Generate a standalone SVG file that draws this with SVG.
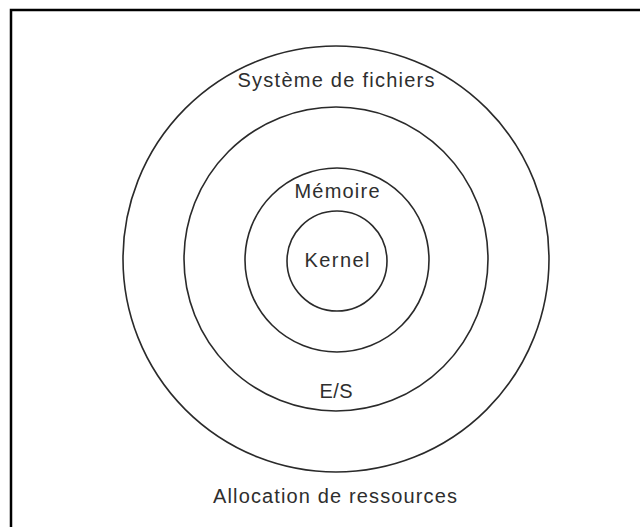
<svg xmlns="http://www.w3.org/2000/svg" width="640" height="527" viewBox="0 0 640 527">
<style>
.ring{fill:none;stroke:#2a2a2a;stroke-width:1.6}
.lbl{font-family:"Liberation Sans",Arial,sans-serif;font-size:20px;fill:#2e2e2e;text-anchor:middle}
.frame{stroke:#000;stroke-width:2.5;fill:none}
</style>
<rect x="0" y="0" width="640" height="527" fill="#fff"/>
<g id="frame">
<path class="frame" d="M11 527 V10 H640"/>
</g>
<g id="connectors"></g>
<g id="ressources">
<circle class="ring" cx="336" cy="259" r="213"/>
<text class="lbl" x="335" y="503" textLength="244" lengthAdjust="spacing">Allocation de ressources</text>
</g>
<g id="fichiers">
<circle class="ring" cx="336" cy="259" r="152"/>
<text class="lbl" x="336" y="87" textLength="197" lengthAdjust="spacing">Système de fichiers</text>
</g>
<g id="es">
<text class="lbl" x="336" y="398" textLength="33" lengthAdjust="spacing">E/S</text>
</g>
<g id="memoire">
<circle class="ring" cx="337" cy="260" r="92"/>
<text class="lbl" x="337" y="198" textLength="85" lengthAdjust="spacing">Mémoire</text>
</g>
<g id="kernel">
<circle class="ring" cx="337" cy="261" r="50"/>
<text class="lbl" x="337" y="267" textLength="65" lengthAdjust="spacing">Kernel</text>
</g>
</svg>
